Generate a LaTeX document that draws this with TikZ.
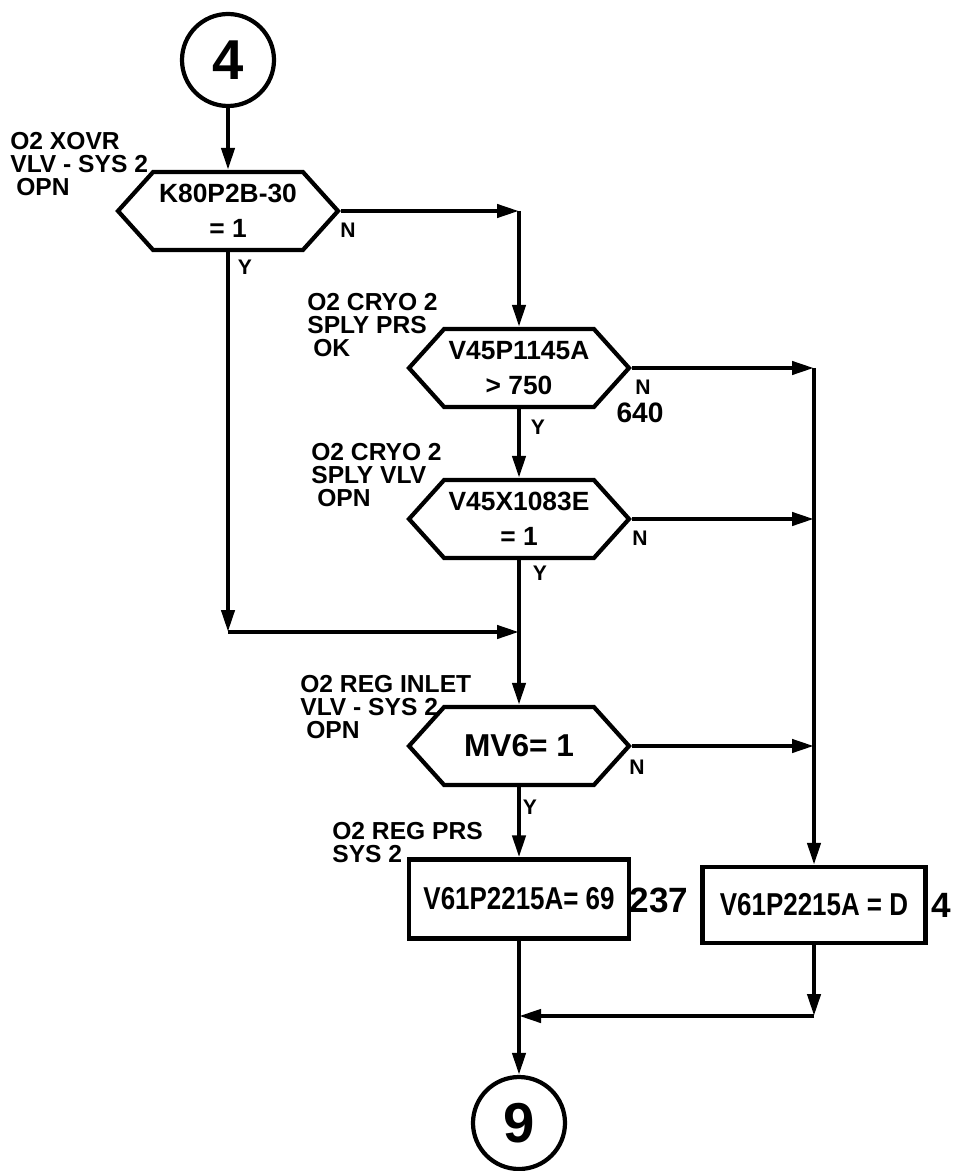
\documentclass[tikz,border=0pt]{standalone}
\usepackage{fontspec}
\setmainfont{Liberation Sans}
\newfontfamily\narrowfont{Liberation Sans}[FakeStretch=0.82]
\usetikzlibrary{shapes.symbols,arrows.meta}

\begin{document}
\begin{tikzpicture}[
    every node/.style={font=\bfseries\fontsize{14}{13}\selectfont, inner sep=0pt},
    lbl/.style={anchor=north west, align=left},
    yn/.style={font=\bfseries\fontsize{12}{12}\selectfont},
    num/.style={font=\bfseries\fontsize{20}{20}\selectfont},
    conn/.style={draw, circle, line width=2.4pt, minimum size=1.84cm, font=\bfseries\fontsize{32}{32}\selectfont},
    dec/.style={draw, signal, signal to=east and west, signal pointer angle=96, line width=2.4pt, minimum width=4.4cm, minimum height=1.56cm, align=center, font=\bfseries\fontsize{15}{20}\selectfont},
    act/.style={draw, rectangle, line width=2.4pt, minimum width=4.4cm, minimum height=1.58cm, font=\narrowfont\bfseries\fontsize{18}{18}\selectfont},
    flow/.style={-{Triangle[length=0.44cm,width=0.26cm]}, line width=2.4pt},
]
\useasboundingbox (0,0) rectangle (19.1,-23.42);
\node[conn] (c4) at (4.56,-1.20) {4};
\node[dec] (h1) at (4.56,-4.22) {K80P2B-30\\= 1};
\node[dec] (h2) at (10.38,-7.36) {V45P1145A\\> 750};
\node[dec] (h3) at (10.38,-10.38) {V45X1083E\\= 1};
\node[dec, font=\bfseries\fontsize{18}{18}\selectfont] (h4) at (10.38,-14.92) {MV6= 1};
\node[act] (b1) at (10.38,-17.98) {V61P2215A= 69};
\node[act, minimum width=4.46cm, minimum height=1.52cm] (b2) at (16.28,-18.10) {V61P2215A = D};
\node[conn] (c9) at (10.38,-22.46) {9};
\node[lbl] (t1) at (0.2,-2.64) {O2 XOVR\\VLV - SYS 2\\\hspace{0.12cm}OPN};
\node[lbl] (t2) at (6.14,-5.86) {O2 CRYO 2\\SPLY PRS\\\hspace{0.12cm}OK};
\node[lbl] (t3) at (6.22,-8.86) {O2 CRYO 2\\SPLY VLV\\\hspace{0.12cm}OPN};
\node[lbl] (t4) at (6.0,-13.5) {O2 REG INLET\\VLV - SYS 2\\\hspace{0.12cm}OPN};
\node[lbl] (t5) at (6.64,-16.44) {O2 REG PRS\\SYS 2};
\node[yn] (n1) at (6.96,-4.60) {N};
\node[yn] (y1) at (4.90,-5.34) {Y};
\node[yn] (n2) at (12.86,-7.74) {N};
\node[num, font=\bfseries\fontsize{16}{16}\selectfont] (k2) at (12.8,-8.26) {640};
\node[yn] (y2) at (10.76,-8.54) {Y};
\node[yn] (n3) at (12.8,-10.76) {N};
\node[yn] (y3) at (10.8,-11.46) {Y};
\node[yn] (n4) at (12.74,-15.34) {N};
\node[yn] (y4) at (10.6,-16.14) {Y};
\node[num] (k1) at (13.18,-18.0) {237};
\node[num, anchor=west] (k3) at (18.62,-18.1) {4};
\coordinate (j1) at (h2 |- h1.east);
\coordinate (j2) at (4.56,-12.64);
\coordinate (j3) at (h3 |- j2);
\coordinate (r2) at (b2 |- h2.east);
\coordinate (r3) at (b2 |- h3.east);
\coordinate (r4) at (b2 |- h4.east);
\coordinate (j4) at (16.28,-20.32);
\coordinate (j5) at (b1 |- j4);
\draw[flow] (c4.south) -- (h1.north);
\draw[flow] (h1.east) -- (j1);
\draw[flow] (j1) -- (h2.north);
\draw[flow] (h2.south) -- (h3.north);
\draw[flow] (h1.south) -- (j2);
\draw[flow] (j2) -- (j3);
\draw[flow] (h3.south) -- (h4.north);
\draw[flow] (h2.east) -- (r2);
\draw[flow] (h3.east) -- (r3);
\draw[flow] (h4.east) -- (r4);
\draw[flow] (r2) -- (b2.north);
\draw[flow] (h4.south) -- (b1.north);
\draw[flow] (b2.south) -- (j4);
\draw[flow] (j4) -- (j5);
\draw[flow] (b1.south) -- (c9.north);
\end{tikzpicture}
\end{document}
